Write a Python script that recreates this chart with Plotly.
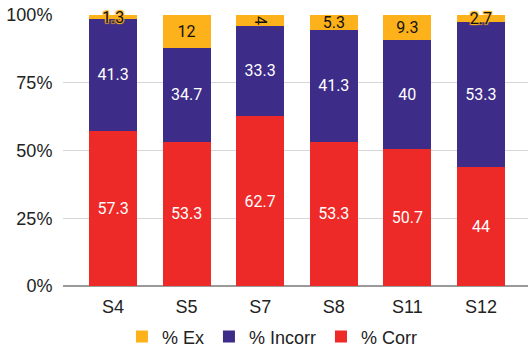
import plotly.graph_objects as go

categories = ["S4", "S5", "S7", "S8", "S11", "S12"]
corr = [57.3, 53.3, 62.7, 53.3, 50.7, 44]
incorr = [41.3, 34.7, 33.3, 41.3, 40, 53.3]
ex = [1.3, 12, 4, 5.3, 9.3, 2.7]
y_ticks = [0, 25, 50, 75, 100]

RED = "#EE2A28"
PURPLE = "#3D2C88"
ORANGE = "#FDB21C"

label_font = dict(family="Roboto", size=16)

fig = go.Figure()
fig.add_trace(go.Bar(
    x=categories, y=corr, name="% Corr", marker=dict(color=RED, line=dict(width=0)),
    text=[f"{v:g}" for v in corr], textposition="inside", insidetextanchor="middle",
    cliponaxis=False,
    textfont=dict(color="white", **label_font), hoverinfo="skip"))
fig.add_trace(go.Bar(
    x=categories, y=incorr, name="% Incorr", marker=dict(color=PURPLE, line=dict(width=0)),
    text=[f"{v:g}" for v in incorr], textposition="inside", insidetextanchor="middle",
    cliponaxis=False,
    textfont=dict(color="white", **label_font), hoverinfo="skip"))
fig.add_trace(go.Bar(
    x=categories, y=ex, name="% Ex", marker=dict(color=ORANGE, line=dict(width=0)),
    text=[f"{v:g}" for v in ex], textposition="inside", insidetextanchor="middle",
    cliponaxis=False,
    textfont=dict(color="#111111",
                  shadow=f"1px 1px 1px {ORANGE}, -1px -1px 1px {ORANGE}, 1px -1px 1px {ORANGE}, -1px 1px 1px {ORANGE}",
                  **label_font),
    hoverinfo="skip"))

fig.update_layout(
    barmode="stack",
    bargap=0.35,
    width=529, height=348,
    margin=dict(l=63, r=1, t=15, b=62, autoexpand=False),
    paper_bgcolor="white", plot_bgcolor="white",
    font=dict(family="Liberation Sans, Arial", size=18, color="#222222"),
    uniformtext=dict(minsize=16, mode="show"),
    showlegend=True,
    legend=dict(orientation="h", traceorder="reversed", x=0.515, xanchor="center", xref="container",
                y=0.032, yanchor="middle", yref="container", font=dict(size=18, color="#222222"),
                itemwidth=30),
    xaxis=dict(range=[-0.68, 5.64], showgrid=False, showline=False, zeroline=False,
               ticks="outside", ticklen=4, tickcolor="rgba(0,0,0,0)",
               tickfont=dict(size=18, color="#222222")),
    yaxis=dict(range=[0, 100], tickvals=y_ticks, ticktext=[f"{v}%" for v in y_ticks],
               showgrid=True, gridcolor="#D6D6D6", gridwidth=1,
               zeroline=True, zerolinecolor="#9A9A9A", zerolinewidth=1.5,
               showline=False, ticks="outside", ticklen=6, tickcolor="rgba(0,0,0,0)",
               tickfont=dict(size=18, color="#222222")),
)

fig.write_html("out.html")
